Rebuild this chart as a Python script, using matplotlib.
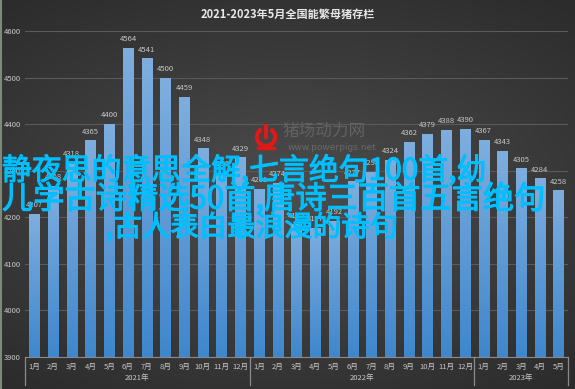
import numpy as np
import matplotlib.pyplot as plt
import matplotlib.patheffects as pe
from matplotlib.patches import Arc
from matplotlib.colors import LinearSegmentedColormap

plt.rcParams['font.family'] = ['Noto Sans CJK SC', 'DejaVu Sans']

# data
months = ['1月', '2月', '3月', '4月', '5月', '6月', '7月', '8月', '9月', '10月', '11月', '12月',
          '1月', '2月', '3月', '4月', '5月', '6月', '7月', '8月', '9月', '10月', '11月', '12月',
          '1月', '2月', '3月', '4月', '5月']
years = ['2021年', '2022年', '2023年']
year_counts = [12, 12, 5]
sows = [4207, 4268, 4318, 4365, 4400, 4564, 4541, 4500, 4459, 4348, 4296, 4329,
        4261, 4274, 4185, 4177, 4192, 4277, 4298, 4324, 4362, 4379, 4388, 4390,
        4367, 4343, 4305, 4284, 4258]
title = '2021-2023年5月全国能繁母猪存栏'
overlay = ['静夜思的意思全解,七言绝句100首,幼',
           '儿学古诗精选50首,唐诗三百首五言绝句',
           ',古人表白最浪漫的诗句']

fig = plt.figure(figsize=(5.75, 3.89), dpi=100)

# dark radial background
bg = fig.add_axes([0, 0, 1, 1])
yy, xx = np.mgrid[-1:1:200j, -1:1:300j]
r = np.sqrt((xx * 0.9) ** 2 + (yy * 1.1) ** 2)
bg_cmap = LinearSegmentedColormap.from_list('bg', ['#4d4d4d', '#2c2c2c'])
bg.imshow(r, cmap=bg_cmap, aspect='auto', extent=[0, 1, 0, 1], vmin=0, vmax=1.4)
bg.plot([0.002, 0.002], [0, 1], color='#7d8a7a', lw=1.5)
bg.set_xlim(0, 1)
bg.set_ylim(0, 1)
bg.axis('off')

ax = fig.add_axes([25 / 575, 1 - 357 / 389, 543 / 575, (357 - 31) / 389])
ax.patch.set_alpha(0)
x = np.arange(len(sows))
bars = ax.bar(x, sows, width=0.55, color='none', zorder=2)
bar_cmap = LinearSegmentedColormap.from_list('bar', ['#3f87cd', '#7eaedf'])
grad = np.linspace(0, 1, 100).reshape(-1, 1)
for b, v in zip(bars, sows):
    im = ax.imshow(grad, cmap=bar_cmap, origin='lower', aspect='auto', zorder=2,
                   extent=[b.get_x(), b.get_x() + b.get_width(), 3900, v])
    im.set_clip_path(b)
    ax.text(b.get_x() + b.get_width() / 2, v + 10, str(v), ha='center', va='bottom',
            fontsize=5.5, color='#c8c8c8', zorder=3)

ax.set_xlim(-0.5, len(sows) - 0.5)
ax.set_ylim(3900, 4600)
ax.set_yticks(np.arange(3900, 4601, 100))
ax.set_yticklabels([str(v) for v in range(3900, 4601, 100)], fontsize=5.5, color='#c8c8c8')
ax.yaxis.grid(True, color='#5a5a5a', lw=0.8, zorder=0)
ax.tick_params(axis='y', length=0, pad=3)
ax.set_xticks(x)
ax.set_xticklabels(months, fontsize=5.5, color='#c8c8c8')
ax.tick_params(axis='x', length=0, pad=4)
for s in ['top', 'right', 'left']:
    ax.spines[s].set_visible(False)
ax.spines['bottom'].set_color('#8a8a8a')

# year groups below the month labels
start = 0
edges = [-0.5]
for name, n in zip(years, year_counts):
    ax.text(start + (n - 1) / 2, -0.065, name, transform=ax.get_xaxis_transform(),
            ha='center', va='center', fontsize=5.5, color='#c8c8c8')
    start += n
    edges.append(start - 0.5)
for e in edges:
    ax.plot([e, e], [0, -0.085], transform=ax.get_xaxis_transform(), color='#8a8a8a',
            lw=0.9, clip_on=False)

fig.text(0.5, 1 - 14 / 389, title, ha='center', va='center', fontsize=8,
         fontweight='bold', color='#e8e8e8')

# watermark logo
fig.text(283 / 575, 1 - 131 / 389, '猪场动力网', ha='left', va='center', fontsize=12,
         color='#626262')
fig.text(288 / 575, 1 - 148 / 389, 'www.powerpigs.net', ha='left', va='center', fontsize=6.5,
         color='#686868', family='DejaVu Sans')
logo = fig.add_axes([253 / 575, 1 - 151 / 389, 26 / 575, 28 / 389])
logo.set_xlim(-1, 1)
logo.set_ylim(-1.1, 1.1)
logo.add_patch(Arc((0, 0), 1.4, 1.4, theta1=120, theta2=420, color='#e01818', lw=3))
logo.plot([0, 0], [0.0, 0.85], color='#e01818', lw=3)
logo.plot([-0.6, 0.6], [-0.9, -0.9], color='#e01818', lw=2.5)
logo.axis('off')

# overlay text, slightly thickened
thick = [pe.withStroke(linewidth=0.8, foreground='#00bfff')]
fig.text(2 / 575, 1 - 171 / 389, overlay[0], ha='left', va='center', fontsize=21.5,
         color='#00bfff', path_effects=thick)
fig.text(2 / 575, 1 - 199 / 389, overlay[1], ha='left', va='center', fontsize=22.5,
         color='#00bfff', path_effects=thick)
fig.text(252 / 575, 1 - 228 / 389, overlay[2], ha='center', va='center', fontsize=20.5,
         color='#00bfff', path_effects=thick)

fig.savefig('out.png', dpi=100)
